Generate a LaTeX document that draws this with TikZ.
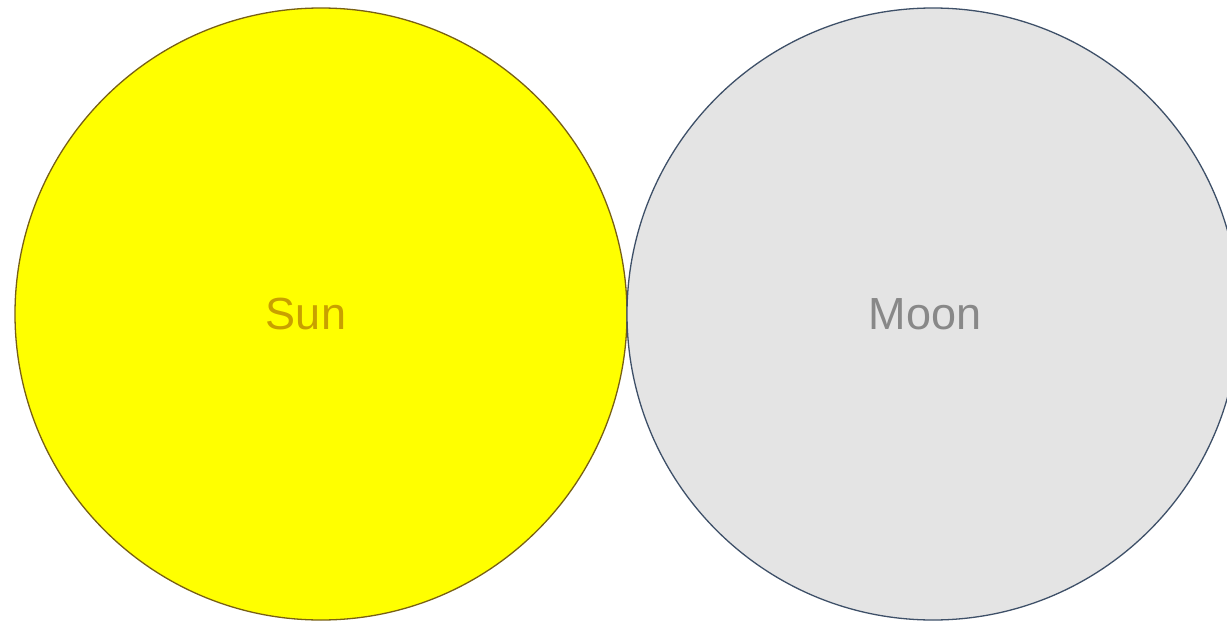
\documentclass[tikz,border=0pt]{standalone}
\usepackage{fontspec}
\setmainfont{Liberation Sans}
\definecolor{sunfill}{RGB}{255,255,0}
\definecolor{sunline}{RGB}{120,96,20}
\definecolor{suntext}{RGB}{200,160,0}
\definecolor{moonfill}{RGB}{228,228,228}
\definecolor{moonline}{RGB}{62,80,104}
\definecolor{moontext}{RGB}{136,136,136}
\begin{document}
\begin{tikzpicture}[x=1pt,y=-1pt,
  body/.style={circle,minimum size=612pt,inner sep=0pt,line width=1.3pt},
  lbl/.style={font=\fontsize{45}{52}\selectfont,inner sep=0pt}]
\useasboundingbox (0,0) rectangle (1227,621);
\node[body,draw=sunline,fill=sunfill] (sun) at (321,314) {};
\node[body,draw=moonline,fill=moonfill] (moon) at (933,314) {};
\node[lbl,text=suntext] (sunlbl) at (306,314) {Sun};
\node[lbl,text=moontext] (moonlbl) at (925,314) {Moon};
\end{tikzpicture}
\end{document}
